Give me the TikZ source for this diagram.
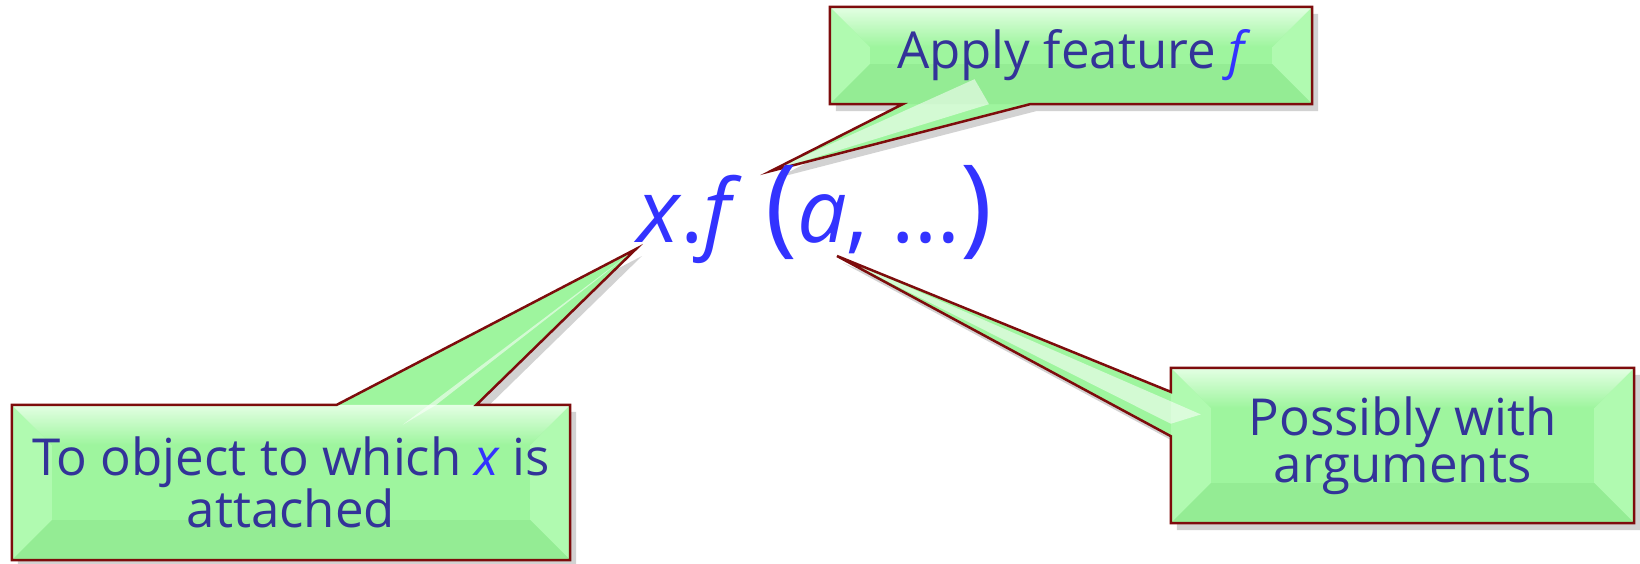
\documentclass[tikz,border=0pt]{standalone}
\usepackage{fontspec}
\setmainfont{Open Sans}
\usepackage{tikz}
\usetikzlibrary{calc,shadows,backgrounds}

\definecolor{boxgreen}{RGB}{158,245,158}
\definecolor{boxlight}{RGB}{228,255,228}
\definecolor{boxside}{RGB}{176,250,176}
\definecolor{boxdark}{RGB}{148,236,148}
\definecolor{rimred}{RGB}{125,12,12}
\definecolor{textblue}{RGB}{51,51,153}
\definecolor{codeblue}{RGB}{51,51,255}

\newcommand{\codevar}[1]{\textcolor{codeblue}{\itshape #1}}
\newcommand{\bigparen}[1]{{\fontsize{108}{108}\selectfont #1}}

% bevelled frame inside a box node
\newcommand{\bevel}[2]{%
  \fill[boxside] (#1.north west) -- ($(#1.north west)+(#2,#2)$) -- ($(#1.south west)+(#2,-#2)$) -- (#1.south west) -- cycle;
  \fill[boxside] (#1.north east) -- ($(#1.north east)+(-#2,#2)$) -- ($(#1.south east)+(-#2,-#2)$) -- (#1.south east) -- cycle;
  \fill[boxdark] (#1.south west) -- ($(#1.south west)+(#2,-#2)$) -- ($(#1.south east)+(-#2,-#2)$) -- (#1.south east) -- cycle;
  \shade[top color=boxlight, bottom color=boxgreen] (#1.north west) -- ($(#1.north west)+(#2,#2)$) -- ($(#1.north east)+(-#2,#2)$) -- (#1.north east) -- cycle;
}

\tikzset{
  callout/.style={fill=boxgreen, drop shadow={shadow xshift=6pt, shadow yshift=-7pt, opacity=0.25, fill=black!70}},
  rim/.style={draw=rimred, line width=2.5pt, line join=miter},
  shine/.style={fill=white, opacity=0.55},
  boxtext/.style={text=textblue, font=\fontsize{51}{44}\selectfont, align=center, inner sep=0pt},
  calltext/.style={text=codeblue, font=\fontsize{88}{88}\selectfont, inner sep=0pt}
}

\begin{document}
\begin{tikzpicture}[x=1pt, y=-1pt]
  \useasboundingbox (0,0) rectangle (1640,564);

  % the feature call
  \node[calltext, anchor=base] (call) at (815,242) {\textit{x}.\textit{f} \bigparen{(}\textit{a}, …\bigparen{)}};

  % the three notes
  \node[boxtext, minimum width=482pt, minimum height=97pt] (feat) at (1071,55.5) {Apply feature \codevar{f}};
  \node[boxtext, minimum width=558pt, minimum height=155pt] (target) at (291,482.5) {To object to which \codevar{x} is\\attached};
  \node[boxtext, minimum width=463pt, minimum height=155pt] (args) at (1402.5,445.5) {Possibly with\\arguments};

  % tips of the tails
  \coordinate (ftip) at (771,171);
  \coordinate (xtip) at (636,249);
  \coordinate (atip) at (837,256);

  \begin{scope}[on background layer]
    % note on f
    \fill[callout, save path=\featpath] (feat.north west) -- (feat.north east) -- (feat.south east)
      -- ($(feat.south west)!0.415!(feat.south east)$) -- (ftip)
      -- ($(feat.south west)!0.151!(feat.south east)$) -- (feat.south west) -- cycle;
    \bevel{feat}{40}
    \fill[shine] (ftip) -- ($(feat.south west)!0.30!(feat.south east)+(0,-25)$) -- ($(feat.south west)!0.33!(feat.south east)$) -- cycle;
    \draw[rim, use path=\featpath];

    % note on x
    \fill[callout, save path=\targetpath] (target.south west) -- (target.north west)
      -- ($(target.north west)!0.582!(target.north east)$) -- (xtip)
      -- ($(target.north west)!0.832!(target.north east)$) -- (target.north east) -- (target.south east) -- cycle;
    \bevel{target}{40}
    \fill[shine] (xtip) -- ($(target.north west)!0.70!(target.north east)+(0,20)$) -- ($(target.north west)!0.76!(target.north east)$) -- cycle;
    \draw[rim, use path=\targetpath];

    % note on the arguments
    \fill[callout, save path=\argspath] (args.north west) -- (args.north east) -- (args.south east) -- (args.south west)
      -- ($(args.north west)!0.44!(args.south west)$) -- (atip)
      -- ($(args.north west)!0.155!(args.south west)$) -- cycle;
    \bevel{args}{40}
    \fill[shine] (atip) -- ($(args.north west)!0.30!(args.south west)+(30,0)$) -- ($(args.north west)!0.36!(args.south west)$) -- cycle;
    \draw[rim, use path=\argspath];
  \end{scope}

\end{tikzpicture}
\end{document}
